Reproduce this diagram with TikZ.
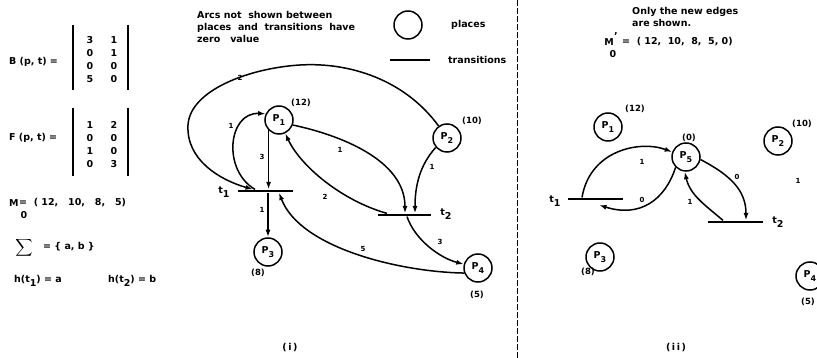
\documentclass[tikz,border=0pt]{standalone}
\usepackage{fontspec}
\setmainfont{DejaVu Sans}
\usepackage{amsmath}
\usetikzlibrary{arrows.meta}

\newcommand\pname[1]{P\raisebox{-4.5pt}{\fontsize{8}{8}\selectfont #1}}
\newcommand\tname[1]{t\raisebox{-4pt}{#1}}

\tikzset{
  txt/.style={font=\bfseries\fontsize{9.5}{12}\selectfont, inner sep=0pt},
  place/.style={circle, draw, line width=1.5pt, minimum size=28pt, inner sep=0pt,
    font=\bfseries\fontsize{9.5}{10}\selectfont},
  trans/.style={fill=black, minimum width=55pt, minimum height=2.8pt, inner sep=0pt},
  mk/.style={font=\bfseries\fontsize{8.5}{9}\selectfont, inner sep=0pt},
  wt/.style={font=\bfseries\fontsize{7}{8}\selectfont, inner sep=0pt},
  pnarc/.style={line width=1.5pt, -{Latex[length=7.5pt,width=5pt]}},
  mbar/.style={line width=2pt},
  sep/.style={line width=0.7pt, dash pattern=on 6pt off 2pt}
}

\begin{document}
\begin{tikzpicture}[x=1pt, y=-1pt]
\useasboundingbox (0,0) rectangle (817,358);
% B and F matrices
\node[txt, anchor=west] (Blab) at (9,62) {B (p, t) =};
\draw[mbar] (73,25) -- (73,90);
\draw[mbar] (128,25) -- (128,90);
\foreach \a/\b [count=\r] in {3/1,0/1,0/0,5/0} {
  \node[txt] (Ba\r) at (90,27+13*\r) {\a};
  \node[txt] (Bb\r) at (114,27+13*\r) {\b};
}
\node[txt, anchor=west] (Flab) at (9,138) {F (p, t) =};
\draw[mbar] (73,108) -- (73,176);
\draw[mbar] (128,108) -- (128,176);
\foreach \a/\b [count=\r] in {1/2,0/0,1/0,0/3} {
  \node[txt] (Fa\r) at (90,112+13*\r) {\a};
  \node[txt] (Fb\r) at (114,112+13*\r) {\b};
}
\node[txt, anchor=west] (Mlab) at (9,203) {M};
\node[txt] (Msub) at (24,215) {0};
\node[txt, anchor=west] (Mval) at (19,203) {=\ \ ( 12,\ \ \ 10,\ \ \ 8,\ \ \ 5)};
\node[txt, font=\fontsize{12.5}{13}\selectfont] (Sig) at (24,248) {$\displaystyle\sum$};
\node[txt, anchor=west] (Sset) at (43,247) {= \{ a, b \}};
\node[txt, anchor=west] (h1) at (14,281) {h(\tname{1}) = a};
\node[txt, anchor=west] (h2) at (108,281) {h(\tname{2}) = b};

% legend
\node[txt, anchor=north west, align=left] (note) at (197,11)
  {Arcs not\ \ shown between\\places\ \ and\ \ transitions\ \ have\\zero\ \ \ value};
\node[place] (keyP) at (408,25) {};
\node[txt, anchor=west] (keyPl) at (451,25) {places};
\node[trans, minimum width=40pt] (keyT) at (410,60) {};
\node[txt, anchor=west] (keyTl) at (448,60) {transitions};

\draw[sep] (517,0) -- (517,358);

% net (i)
\node[place] (P1) at (279,120) {\pname{1}};
\node[place] (P2) at (447,138) {\pname{2}};
\node[place] (P3) at (268,252) {\pname{3}};
\node[place] (P4) at (478,268) {\pname{4}};
\node[trans] (T1) at (265,191) {};
\node[trans, minimum width=53pt] (T2) at (404,215) {};
\node[mk] (P1m) at (301,103) {(12)};
\node[mk] (P2m) at (472,121) {(10)};
\node[mk] (P3m) at (258,273) {(8)};
\node[mk] (P4m) at (477,295) {(5)};
\node[txt] (T1l) at (224,192) {\tname{1}};
\node[txt] (T2l) at (446,214) {\tname{2}};

\draw[pnarc] (P1.225) -- (P1.225 |- T1.north);
\draw[pnarc] (T1.south -| P3.north) -- (P3.north);
\draw[pnarc] ([xshift=-10pt]T1.north) .. controls (222,170) and (228,112) .. (P1.155);
\draw[pnarc] (P2.125) .. controls (405,80) and (350,62) .. (300,65)
  .. controls (250,68) and (190,90) .. (188,125)
  .. controls (186,160) and (220,180) .. ([xshift=-12pt]T1.north);
\draw[pnarc] (P1.-20) .. controls (340,135) and (405,160) .. ([xshift=1pt]T2.north);
\draw[pnarc] ([xshift=3pt]T2.south) .. controls (415,240) and (440,258) .. (P4.165);
\draw[pnarc] (P2.220) .. controls (420,165) and (415,185) .. ([xshift=11pt]T2.north);
\draw[pnarc] ([xshift=-17pt]T2.north) .. controls (340,200) and (300,165) .. (P1.-65);
\draw[pnarc] (P4.200) .. controls (400,272) and (300,248) .. ([xshift=14pt]T1.south);
\node[wt] (w1) at (262,157) {3};
\node[wt] (w2) at (262,210) {1};
\node[wt] (w3) at (231,126) {1};
\node[wt] (w4) at (240,78) {2};
\node[wt] (w5) at (340,150) {1};
\node[wt] (w6) at (432,167) {1};
\node[wt] (w7) at (325,197) {2};
\node[wt] (w8) at (440,242) {3};
\node[wt] (w9) at (363,249) {5};

% net (ii)
\node[txt, anchor=north west, align=left] (note2) at (632,7) {Only the new edges\\are shown.};
\node[txt] (M2) at (609,42) {M};
\node[txt] (M2p) at (616,36) {'};
\node[txt] (M2sub) at (613,54) {0};
\node[txt, anchor=west] (M2val) at (622,42) {=\ \ ( 12,\ \ 10,\ \ 8,\ \ 5, 0)};

\node[place] (Q1) at (608,127) {\pname{1}};
\node[place] (Q2) at (778,141) {\pname{2}};
\node[place] (Q3) at (600,257) {\pname{3}};
\node[place] (Q4) at (810,276) {\pname{4}};
\node[place] (Q5) at (686,157) {\pname{5}};
\node[trans] (U1) at (595,199) {};
\node[trans] (U2) at (735,222) {};
\node[mk] (Q1m) at (635,109) {(12)};
\node[mk] (Q2m) at (802,124) {(10)};
\node[mk] (Q3m) at (588,272) {(8)};
\node[mk] (Q4m) at (808,302) {(5)};
\node[mk] (Q5m) at (689,138) {(0)};
\node[txt] (U1l) at (555,201) {\tname{1}};
\node[txt] (U2l) at (778,222) {\tname{2}};
\coordinate (U1in) at (599,205);

\draw[pnarc] ([xshift=-13pt]U1.north) .. controls (590,150) and (640,140) .. (Q5.160);
\draw[pnarc] (Q5.225) .. controls (665,200) and (640,218) .. (U1in);
\draw[pnarc] (Q5.-10) .. controls (730,175) and (746,190) .. ([xshift=11pt]U2.north);
\draw[pnarc] ([xshift=-12pt]U2.north) .. controls (705,205) and (690,195) .. (Q5.265);
\node[wt] (v1) at (642,162) {1};
\node[wt] (v2) at (642,200) {0};
\node[wt] (v3) at (737,177) {0};
\node[wt] (v4) at (690,202) {1};
\node[wt] (v5) at (798,181) {1};

\node[txt] (capi) at (290,348) {(\,i\,)};
\node[txt] (capii) at (676,348) {(\,i\,i\,)};
\end{tikzpicture}
\end{document}
